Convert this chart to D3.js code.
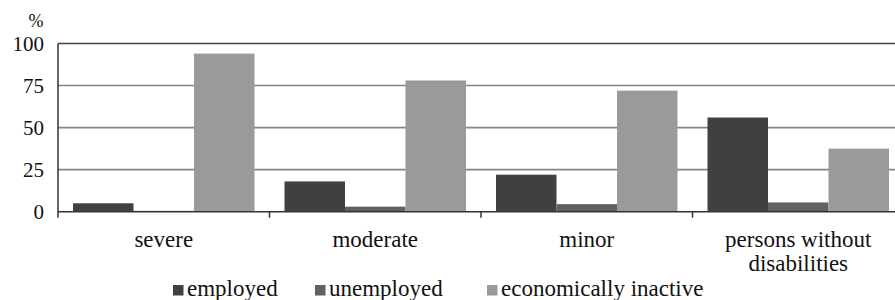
<!DOCTYPE html>
<html>
<head>
<meta charset="utf-8">
<script src="https://cdn.jsdelivr.net/npm/d3@7"></script>
</head>
<body style="margin:0;background:#fff">
<svg id="chart" width="895" height="300"></svg>
<script>
// chart data
var categories = ["severe", "moderate", "minor", "persons without disabilities"];
var series = ["employed", "unemployed", "economically inactive"];
var employed = [5, 18, 22, 56];
var unemployed = [0.5, 3, 4.5, 5.5];
var inactive = [94, 78, 72, 37.5];
var yTicks = [0, 25, 50, 75, 100];
var colors = ["#404040", "#616161", "#9a9a9a"];

var FONT = "'Liberation Serif'";
var values = [employed, unemployed, inactive];
var svg = d3.select("#chart");

var plotLeft = 58, plotRight = 904, plotTop = 43.5, plotBottom = 211.7;

var x0 = d3.scaleBand().domain(categories).range([plotLeft, plotRight]);
var x1 = d3.scaleBand().domain(series).range([0, x0.bandwidth()]).paddingOuter(0.248);
var y = d3.scaleLinear().domain([0, 100]).range([plotBottom, plotTop]);

// gridlines
svg.append("g").selectAll("line")
    .data(yTicks.filter(function(t) { return t > 0; }))
    .enter().append("line")
    .attr("x1", plotLeft).attr("x2", plotRight)
    .attr("y1", function(d) { return y(d); })
    .attr("y2", function(d) { return y(d); })
    .attr("stroke", function(d) { return d == 100 ? "#444" : "#858585"; })
    .attr("stroke-width", 1.6);

// bars
categories.forEach(function(cat, ci) {
    series.forEach(function(s, si) {
        var v = values[si][ci];
        svg.append("rect")
            .attr("x", x0(cat) + x1(s))
            .attr("y", y(v))
            .attr("width", x1.bandwidth())
            .attr("height", y(0) - y(v))
            .attr("fill", colors[si]);
    });
});

// axes lines
svg.append("line").attr("x1", plotLeft).attr("x2", plotLeft).attr("y1", plotTop).attr("y2", plotBottom + 6)
    .attr("stroke", "#333").attr("stroke-width", 1.5);
svg.append("line").attr("x1", plotLeft).attr("x2", plotRight).attr("y1", plotBottom).attr("y2", plotBottom)
    .attr("stroke", "#333").attr("stroke-width", 1.5);
categories.forEach(function(cat) {
    var xx = x0(cat) + x0.bandwidth();
    svg.append("line").attr("x1", xx).attr("x2", xx).attr("y1", plotBottom).attr("y2", plotBottom + 6)
        .attr("stroke", "#333").attr("stroke-width", 1.5);
});

// y tick labels
svg.append("g").selectAll("text")
    .data(yTicks)
    .enter().append("text")
    .attr("x", 44)
    .attr("y", function(d) { return y(d); })
    .attr("dy", "0.34em")
    .attr("text-anchor", "end")
    .attr("fill", "#111")
    .style("font-family", FONT)
    .style("font-size", "21px")
    .text(function(d) { return d; });

svg.append("text").attr("x", 36).attr("y", 27).attr("text-anchor", "middle")
    .attr("fill", "#111").style("font-family", FONT).style("font-size", "18px").text("%");

// category labels
var catLines = { "persons without disabilities": ["persons without", "disabilities"] };
categories.forEach(function(cat) {
    var lines = catLines[cat] || [cat];
    var t = svg.append("text")
        .attr("x", x0(cat) + x0.bandwidth() / 2)
        .attr("y", 247)
        .attr("text-anchor", "middle")
        .attr("fill", "#111")
        .style("font-family", FONT)
        .style("font-size", "23px");
    lines.forEach(function(l, i) {
        t.append("tspan").attr("x", x0(cat) + x0.bandwidth() / 2)
            .attr("dy", i == 0 ? 0 : 24).text(l);
    });
});

// legend
var legendX = [173, 315, 487];
series.forEach(function(s, i) {
    svg.append("rect").attr("x", legendX[i]).attr("y", 285).attr("width", 10.5).attr("height", 10.5)
        .attr("fill", colors[i]);
    svg.append("text").attr("x", legendX[i] + 14).attr("y", 295.5)
        .attr("fill", "#111").style("font-family", FONT).style("font-size", "23px").text(s);
});
</script>
</body>
</html>
